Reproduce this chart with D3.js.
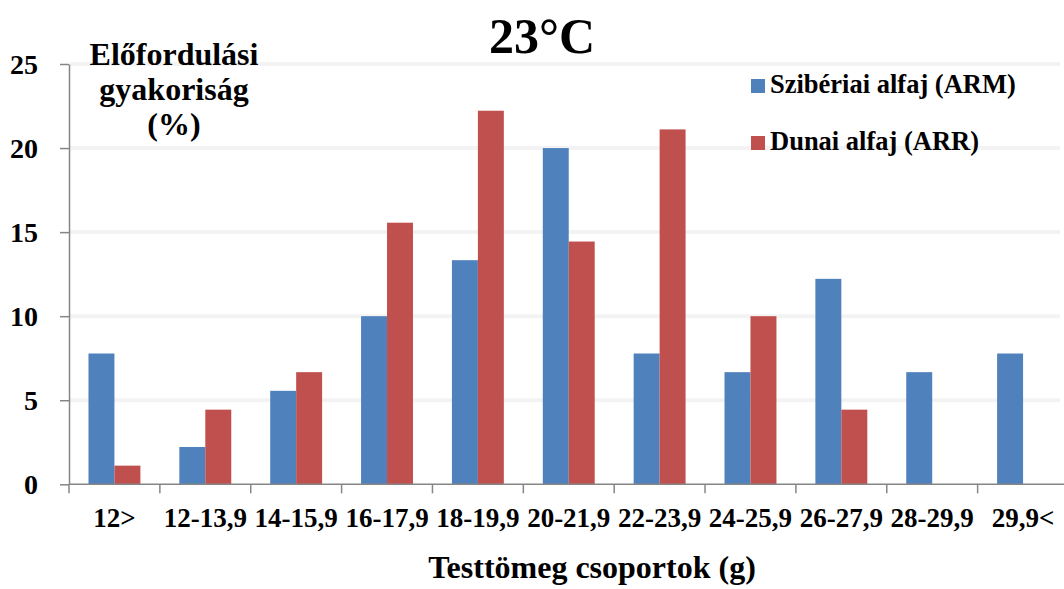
<!DOCTYPE html>
<html>
<head>
<meta charset="utf-8">
<script src="https://cdn.jsdelivr.net/npm/d3@7"></script>
<style>
  html, body { margin: 0; padding: 0; background: #fff; }
  svg { display: block; }
</style>
</head>
<body>
<svg id="chart" width="1064" height="589"></svg>
<script>
// Body-mass groups (g)
const categories = ["12>", "12-13,9", "14-15,9", "16-17,9", "18-19,9", "20-21,9",
                    "22-23,9", "24-25,9", "26-27,9", "28-29,9", "29,9<"];
// Frequency of occurrence (%) per subspecies
const siberian = [7.78, 2.22, 5.56, 10.0, 13.33, 20.0, 7.78, 6.67, 12.22, 6.67, 7.78];
const danube   = [1.11, 4.44, 6.67, 15.56, 22.22, 14.44, 21.11, 10.0, 4.44, 0, 0];
const seriesNames = ["Szibériai alfaj (ARM)", "Dunai alfaj (ARR)"];
const seriesColors = ["#4F81BD", "#C0504D"];
const yTicks = [0, 5, 10, 15, 20, 25];

const FONT = "'Liberation Serif', 'Times New Roman', serif";
const svg = d3.select("#chart");
const plotLeft = 69, plotRight = 1068.5, plotTop = 64, plotBottom = 484.3;

const x = d3.scaleBand().domain(categories).range([plotLeft, plotRight]).padding(0);
const bw = x.bandwidth();
// Two bars per group with a gap of 1.5 bar widths between groups
const x1 = d3.scaleBand().domain([0, 1])
  .range([bw * 0.75 / 3.5, bw * 2.75 / 3.5]).padding(0);
const y = d3.scaleLinear().domain([0, 25]).range([plotBottom, plotTop]);

// faint horizontal guides
svg.append("g").selectAll("line").data(yTicks.filter(d => d > 0)).join("line")
  .attr("x1", plotLeft + 1).attr("x2", 1060)
  .attr("y1", d => y(d)).attr("y2", d => y(d))
  .attr("stroke", "#f3f3f3").attr("stroke-width", 4);

// bars
const rows = categories.map((c, i) => ({ c, v: [siberian[i], danube[i]] }));
const groups = svg.append("g").selectAll("g").data(rows).join("g")
  .attr("transform", d => `translate(${x(d.c)},0)`);
groups.selectAll("rect").data(d => d.v.map((v, k) => ({ v, k }))).join("rect")
  .attr("x", d => x1(d.k))
  .attr("width", x1.bandwidth())
  .attr("y", d => y(d.v))
  .attr("height", d => y(0) - y(d.v))
  .attr("fill", d => seriesColors[d.k]);

// y axis
const yAxis = svg.append("g").attr("transform", `translate(${plotLeft},0)`)
  .call(d3.axisLeft(y).tickValues(yTicks).tickSize(9).tickPadding(22).tickSizeOuter(0));
yAxis.select(".domain").attr("stroke", "#868686").attr("stroke-width", 1.5);
yAxis.selectAll(".tick line").attr("stroke", "#868686").attr("stroke-width", 1.5);
yAxis.selectAll(".tick text").attr("dy", "0.34em").attr("fill", "#000")
  .style("font-family", FONT).style("font-size", "28px").style("font-weight", "bold");

// x axis: ticks between categories
const boundaries = categories.map(c => x(c));
const xAxis = svg.append("g").attr("transform", `translate(0,${plotBottom})`);
xAxis.append("line").attr("x1", plotLeft).attr("x2", 1064)
  .attr("stroke", "#868686").attr("stroke-width", 1.5);
xAxis.selectAll("line.t").data(boundaries).join("line").attr("class", "t")
  .attr("x1", d => d).attr("x2", d => d).attr("y1", 0).attr("y2", 9)
  .attr("stroke", "#868686").attr("stroke-width", 1.5);
xAxis.selectAll("text").data(categories).join("text")
  .attr("x", d => x(d) + bw / 2).attr("y", 42.5)
  .attr("text-anchor", "middle")
  .style("font-family", FONT).style("font-size", "27px").style("font-weight", "bold")
  .text(d => d);

// title
svg.append("text").attr("x", 542).attr("y", 53).attr("text-anchor", "middle")
  .style("font-family", FONT).style("font-size", "50px").style("font-weight", "bold")
  .text("23°C");

// y axis title
const yTitle = ["Előfordulási", "gyakoriság", "(%)"];
svg.append("g").selectAll("text").data(yTitle).join("text")
  .attr("x", 174).attr("y", (d, i) => 65 + i * 35).attr("text-anchor", "middle")
  .style("font-family", FONT).style("font-size", "32px").style("font-weight", "bold")
  .text(d => d);

// x axis title
svg.append("text").attr("x", 592).attr("y", 578).attr("text-anchor", "middle")
  .style("font-family", FONT).style("font-size", "32px").style("font-weight", "bold")
  .text("Testtömeg csoportok (g)");

// legend
const legend = svg.append("g").selectAll("g").data(seriesNames).join("g")
  .attr("transform", (d, i) => `translate(751,${79 + i * 57})`);
legend.append("rect").attr("width", 14).attr("height", 14)
  .attr("fill", (d, i) => seriesColors[i]);
legend.append("text").attr("x", 19).attr("y", 14)
  .style("font-family", FONT).style("font-size", "26.5px").style("font-weight", "bold")
  .text(d => d);
</script>
</body>
</html>
